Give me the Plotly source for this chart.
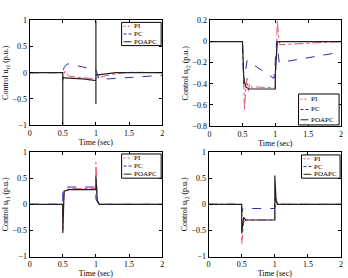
import plotly.graph_objects as go

W, H = 348, 278

# ---------------- data ----------------
# Panel 1: u_r1
t1_pi  = [0, 0.5, 0.5, 0.53, 0.6, 0.8, 1.0, 1.0, 1.03, 1.2, 1.5, 2.0]
y1_pi  = [0, 0, -0.15, 0.03, -0.07, -0.09, -0.12, -0.1, -0.1, -0.04, 0.01, 0.0]
t1_pc  = [0, 0.5, 0.52, 0.57, 0.8, 1.0, 1.0, 1.05, 1.5, 2.0]
y1_pc  = [0, 0, 0.1, 0.17, 0.11, 0.05, 0.05, -0.13, -0.09, -0.05]
t1_po  = [0, 0.5, 0.5, 0.5, 0.52, 0.8, 1.0, 1.0, 1.0, 1.0, 1.03, 1.3, 2.0]
y1_po  = [0, 0, -1.0, -0.1, -0.1, -0.12, -0.15, 1.0, -0.6, -0.05, -0.04, 0.0, 0.0]

# Panel 2: u_r2
t2_pi  = [0, 0.5, 0.52, 0.53, 0.55, 0.57, 0.59, 0.61, 0.65, 0.7, 1.0, 1.0, 1.02, 1.03, 1.05, 1.07, 2.0]
y2_pi  = [0, 0, -0.4, -0.65, -0.45, -0.35, -0.47, -0.4, -0.44, -0.43, -0.44, -0.35, -0.05, 0.2, 0.05, -0.03, 0.0]
t2_pc  = [0, 0.5, 0.52, 0.57, 0.98, 1.0, 1.02, 1.06, 1.5, 2.0]
y2_pc  = [0, 0, -0.4, -0.18, -0.35, -0.15, 0.0, -0.2, -0.15, -0.1]
t2_po  = [0, 0.5, 0.52, 0.55, 0.6, 1.0, 1.0, 1.03, 2.0]
y2_po  = [0, 0, -0.35, -0.43, -0.45, -0.45, -0.3, 0.0, 0.0]

# Panel 3: u_i1
t3_pi  = [0, 0.5, 0.5, 0.52, 0.6, 1.0, 1.0, 1.02, 1.05, 2.0]
y3_pi  = [0, 0, -0.5, 0.27, 0.3, 0.3, 0.8, 0.1, 0.0, 0.0]
t3_pc  = [0, 0.5, 0.5, 0.52, 1.0, 1.0, 1.05, 1.1, 2.0]
y3_pc  = [0, 0, 0.3, 0.33, 0.33, 0.1, -0.02, 0.0, 0.0]
t3_po  = [0, 0.5, 0.5, 0.52, 0.6, 1.0, 1.0, 1.02, 1.05, 2.0]
y3_po  = [0, 0, -0.55, 0.25, 0.28, 0.28, 0.55, 0.08, 0.0, 0.0]

# Panel 4: u_i2
t4_pi  = [0, 0.5, 0.5, 0.53, 0.56, 1.0, 1.0, 1.02, 1.05, 2.0]
y4_pi  = [0, 0, -0.75, -0.35, -0.3, -0.3, 0.0, 0.1, 0.0, 0.0]
t4_pc  = [0, 0.5, 0.5, 0.52, 1.0, 1.0, 1.02, 1.05, 2.0]
y4_pc  = [0, 0, -0.15, -0.08, -0.08, 0.0, 0.05, 0.0, 0.0]
t4_po  = [0, 0.5, 0.5, 0.53, 0.56, 1.0, 1.0, 1.02, 1.04, 2.0]
y4_po  = [0, 0, -0.55, -0.25, -0.3, -0.3, 0.55, 0.05, 0.0, 0.0]

series_names = ["PI", "PC", "POAPC"]
ylabels = ["Control u<sub>r1</sub> (p.u.)", "Control u<sub>r2</sub> (p.u.)",
           "Control u<sub>i1</sub> (p.u.)", "Control u<sub>i2</sub> (p.u.)"]
xticks = [0, 0.5, 1, 1.5, 2]
xticklabels = ["0", "0.5", "1", "1.5", "2"]
yticks_a = [-1, -0.5, 0, 0.5, 1]
yticks_b = [-0.8, -0.6, -0.4, -0.2, 0, 0.2]

panels = [
    ((t1_pi, y1_pi), (t1_pc, y1_pc), (t1_po, y1_po)),
    ((t2_pi, y2_pi), (t2_pc, y2_pc), (t2_po, y2_po)),
    ((t3_pi, y3_pi), (t3_pc, y3_pc), (t3_po, y3_po)),
    ((t4_pi, y4_pi), (t4_pc, y4_pc), (t4_po, y4_po)),
]

# ---------------- layout geometry (pixels) ----------------
boxes = [(28, 162, 17, 125), (210, 343, 17, 126), (28, 162, 153, 261), (209, 343, 153, 261)]
yranges = [[-1, 1], [-0.8, 0.2], [-1, 1], [-1, 1]]
yticks = [yticks_a, yticks_b, yticks_a, yticks_a]
legend_boxes = [(121, 161, 19, 43), (300, 341, 93, 125), (121, 161, 155, 180), (303, 342, 156, 180)]

styles = [dict(color="#e8506a", dash="dashdot", width=1),
          dict(color="#2a2ab8", dash="dash", width=1),
          dict(color="#222222", dash="solid", width=1.2)]
legend_dash = ["2px,2px", "3px,2px", "solid"]

def px(x): return x / W
def py(y): return 1 - y / H

fig = go.Figure()
FONT = "Liberation Serif"
shapes, annotations = [], []

for i, (panel, box) in enumerate(zip(panels, boxes)):
    xa = "x" if i == 0 else f"x{i+1}"
    ya = "y" if i == 0 else f"y{i+1}"
    for j, (t, y) in enumerate(panel):
        fig.add_trace(go.Scatter(x=t, y=y, mode="lines", name=series_names[j],
                                 line=styles[j], xaxis=xa, yaxis=ya, showlegend=False))
    x0, x1, y0, y1 = box
    axkey = "xaxis" if i == 0 else f"xaxis{i+1}"
    aykey = "yaxis" if i == 0 else f"yaxis{i+1}"
    common = dict(showgrid=False, zeroline=False, showline=True, linecolor="black",
                  linewidth=1, mirror="ticks", ticks="inside", ticklen=3,
                  tickcolor="black", tickfont=dict(family=FONT, size=8, color="black"))
    fig.layout[axkey] = dict(domain=[px(x0), px(x1)], range=[0, 2], anchor=ya,
                             tickvals=xticks, ticktext=xticklabels,
                             title=dict(text="Time (sec)", font=dict(family=FONT, size=8, color="black"),
                                        standoff=0), **common)
    fig.layout[aykey] = dict(domain=[py(y1), py(y0)], range=yranges[i], anchor=xa,
                             tickvals=yticks[i],
                             title=dict(text=ylabels[i], font=dict(family=FONT, size=8, color="black"),
                                        standoff=2), **common)
    # manual legend
    lx0, lx1, ly0, ly1 = legend_boxes[i]
    shapes.append(dict(type="rect", xref="paper", yref="paper", x0=px(lx0), x1=px(lx1),
                       y0=py(ly1), y1=py(ly0), line=dict(color="black", width=1),
                       fillcolor="white", layer="above"))
    rowh = (ly1 - ly0) / 3
    for j in range(3):
        yy = ly0 + rowh * (j + 0.5)
        shapes.append(dict(type="line", xref="paper", yref="paper", x0=px(lx0 + 2), x1=px(lx0 + 10),
                           y0=py(yy), y1=py(yy), layer="above",
                           line=dict(color=styles[j]["color"], width=1, dash=legend_dash[j])))
        annotations.append(dict(x=px(lx0 + 11), y=py(yy), xref="paper", yref="paper",
                                text=series_names[j], showarrow=False, xanchor="left", yanchor="middle",
                                font=dict(family=FONT, size=7, color="black")))

fig.update_layout(width=W, height=H, margin=dict(l=0, r=0, t=0, b=0),
                  paper_bgcolor="white", plot_bgcolor="white",
                  shapes=shapes, annotations=annotations, showlegend=False)

fig.write_html("out.html", config={"displayModeBar": False})
